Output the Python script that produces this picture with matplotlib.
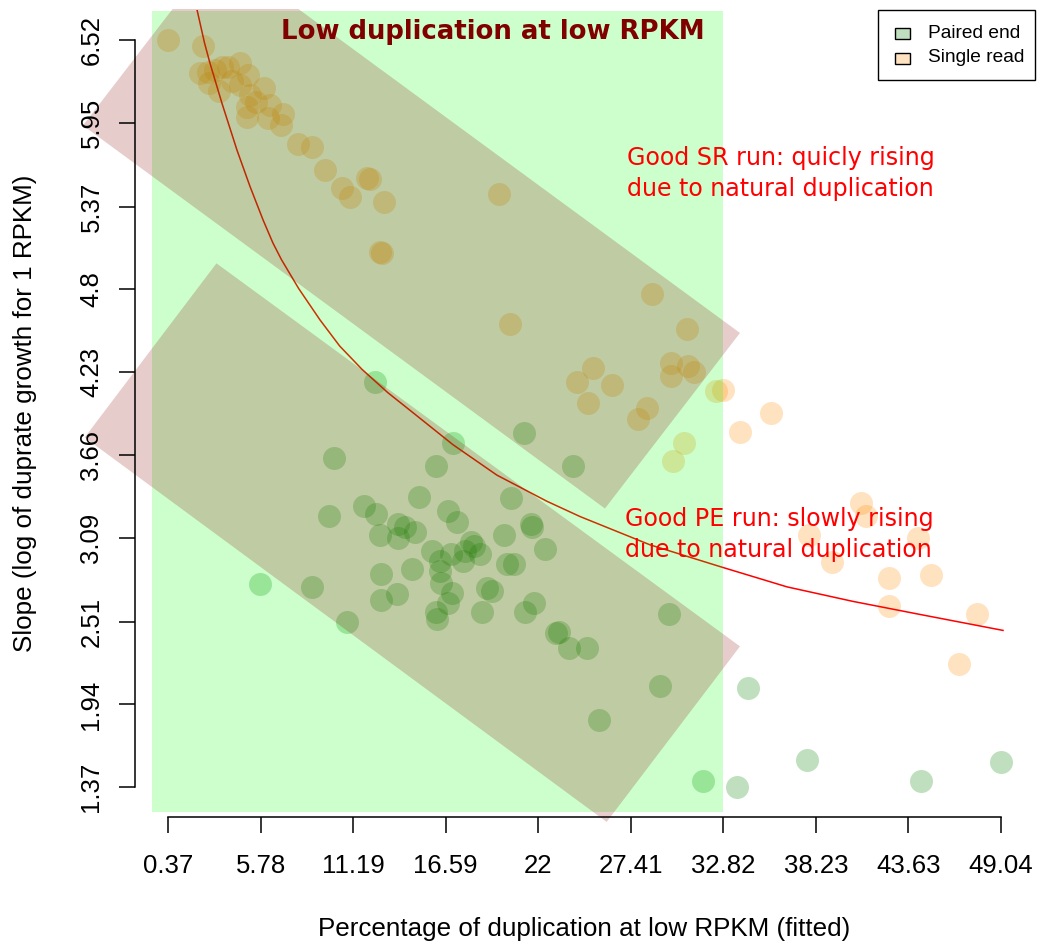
import matplotlib
matplotlib.use('Agg')
import matplotlib.pyplot as plt
from matplotlib.patches import Polygon, Rectangle

plt.rcParams['font.family'] = ['Liberation Sans', 'DejaVu Sans']

# Paired end runs: % duplication at low RPKM vs slope
pe_x = [12.47, 17.02, 21.17, 24.03, 10.07, 16.03, 15.04, 11.82, 9.78, 12.52, 16.73, 17.26,
        20.41, 13.81, 14.22, 14.80, 12.76, 13.81, 20.00, 21.58, 21.64, 22.40, 18.07, 18.25,
        18.60, 17.72, 17.61, 16.91, 15.80, 16.26, 16.26, 16.32, 20.18, 20.59, 14.63, 12.82,
        8.78, 19.01, 19.30, 16.96, 16.73, 13.75, 12.82, 16.03, 16.09, 18.72, 21.76, 21.23,
        10.83, 23.04, 23.22, 23.80, 24.85, 29.64, 29.12, 25.55, 31.63, 34.26, 33.62, 37.71,
        44.37, 49.04, 5.75]
pe_y = [4.16, 3.74, 3.81, 3.58, 3.64, 3.58, 3.37, 3.31, 3.24, 3.25, 3.27, 3.20,
        3.36, 3.18, 3.16, 3.13, 3.11, 3.09, 3.11, 3.18, 3.16, 3.01, 3.06, 3.03,
        2.98, 3.00, 2.93, 2.98, 3.00, 2.93, 2.86, 2.78, 2.91, 2.91, 2.87, 2.84,
        2.75, 2.74, 2.72, 2.71, 2.64, 2.70, 2.66, 2.58, 2.53, 2.58, 2.64, 2.58,
        2.51, 2.43, 2.44, 2.33, 2.33, 2.56, 2.07, 1.83, 1.41, 2.05, 1.37, 1.56,
        1.41, 1.54, 2.77]

# Single read runs
sr_x = [0.37, 2.42, 2.24, 2.71, 3.12, 3.53, 3.88, 4.58, 2.77, 3.35, 4.11, 4.58,
        5.04, 5.98, 5.16, 4.99, 4.99, 5.51, 6.33, 7.09, 6.21, 6.97, 7.97, 8.78,
        9.54, 10.54, 11.00, 12.00, 12.17, 12.99, 12.76, 12.87, 19.71, 20.35, 28.65, 30.69,
        25.20, 24.27, 26.31, 24.91, 29.76, 29.76, 30.75, 31.10, 28.36, 27.83, 32.39, 32.80,
        30.52, 29.88, 33.79, 35.60, 40.86, 41.15, 37.82, 44.19, 39.17, 42.50, 44.95, 42.50,
        47.64, 46.59]
sr_y = [6.52, 6.48, 6.29, 6.30, 6.31, 6.33, 6.33, 6.36, 6.22, 6.17, 6.24, 6.21,
        6.28, 6.19, 6.14, 6.06, 5.99, 6.09, 6.07, 6.01, 5.98, 5.93, 5.80, 5.78,
        5.62, 5.50, 5.44, 5.57, 5.56, 5.40, 5.06, 5.05, 5.46, 4.56, 4.77, 4.53,
        4.26, 4.16, 4.14, 4.02, 4.29, 4.20, 4.27, 4.23, 3.98, 3.91, 4.10, 4.11,
        3.74, 3.62, 3.82, 3.95, 3.33, 3.24, 3.11, 3.09, 2.92, 2.81, 2.83, 2.62,
        2.56, 2.22]

# fitted curve
fit_x = [2.06, 2.50, 2.82, 3.53, 4.40, 5.16, 5.92, 6.50, 7.00, 8.00, 9.25, 10.40, 11.70,
         13.20, 14.69, 17.02, 19.59, 22.51, 24.44, 28.53, 32.62, 36.54, 40.39, 44.31, 49.16]
fit_y = [6.73, 6.50, 6.36, 6.08, 5.76, 5.51, 5.28, 5.12, 5.005, 4.807, 4.59, 4.41, 4.25,
         4.09, 3.95, 3.73, 3.52, 3.34, 3.235, 3.04, 2.89, 2.75, 2.65, 2.56, 2.45]

# highlighted zones
low_dup_x = (-0.57, 32.82)
low_dup_y = (1.20, 6.72)
sr_zone = [(-4.60, 5.93), (3.29, 7.14), (33.79, 4.50), (25.90, 3.29)]
pe_zone = [(-4.50, 3.78), (3.20, 4.98), (33.79, 2.34), (26.00, 1.13)]

xticks = [0.37, 5.78, 11.19, 16.59, 22, 27.41, 32.82, 38.23, 43.63, 49.04]
xtick_labels = ['0.37', '5.78', '11.19', '16.59', '22', '27.41', '32.82', '38.23', '43.63', '49.04']
yticks = [1.37, 1.94, 2.51, 3.09, 3.66, 4.23, 4.8, 5.37, 5.95, 6.52]
ytick_labels = ['1.37', '1.94', '2.51', '3.09', '3.66', '4.23', '4.8', '5.37', '5.95', '6.52']

legend_labels = ['Paired end', 'Single read']

pe_col = (0.0, 0.5, 0.0)
sr_col = (1.0, 0.55, 0.0)

W, H = 1044, 942
fig = plt.figure(figsize=(W / 100, H / 100), dpi=100)
ax = fig.add_axes([0.12902, 0.13270, 0.86169, 0.85669])
ax.set_xlim(-1.577, 50.987)
ax.set_ylim(1.164, 6.726)

# points
ax.scatter(pe_x, pe_y, s=274, color=pe_col, alpha=0.25, linewidths=0, zorder=1)
ax.scatter(sr_x, sr_y, s=274, color=sr_col, alpha=0.25, linewidths=0, zorder=1)

# fitted curve
ax.plot(fit_x, fit_y, color='red', lw=1.1, zorder=1.5)

# zones
ax.add_patch(Rectangle((low_dup_x[0], low_dup_y[0]), low_dup_x[1] - low_dup_x[0],
                       low_dup_y[1] - low_dup_y[0], facecolor=(0, 1, 0), alpha=0.2,
                       lw=0, zorder=2.1))
fig_clip = Rectangle((0, 0), 1, 1 - 9 / H, transform=fig.transFigure)
for zone in [sr_zone, pe_zone]:
    poly = Polygon(zone, closed=True, facecolor=(0.545, 0, 0), alpha=0.2, lw=0, zorder=2.2)
    ax.add_patch(poly)
    poly.set_clip_path(fig_clip)

# texts
ax.text(19.36, 6.575, 'Low duplication at low RPKM', color='#800000', fontsize=18.7,
        weight='bold', family='DejaVu Sans', ha='center', va='center', zorder=5)
ax.text(27.19, 5.60, 'Good SR run: quicly rising\ndue to natural duplication', color='red',
        fontsize=17.1, family='DejaVu Sans', ha='left', va='center', linespacing=1.38, zorder=5)
ax.text(27.07, 3.11, 'Good PE run: slowly rising\ndue to natural duplication', color='red',
        fontsize=17.1, family='DejaVu Sans', ha='left', va='center', linespacing=1.38, zorder=5)

# axes
ax.set_axisbelow(False)
for s in ['top', 'right']:
    ax.spines[s].set_visible(False)
ax.spines['left'].set_bounds(1.37, 6.52)
ax.spines['bottom'].set_bounds(0.37, 49.04)
ax.spines['left'].set_linewidth(1.1)
ax.spines['bottom'].set_linewidth(1.1)
ax.set_xticks(xticks, labels=xtick_labels)
ax.set_yticks(yticks, labels=ytick_labels, rotation=90, va='center')
ax.tick_params(axis='both', length=11.5, width=1.1, labelsize=18.5)
ax.tick_params(axis='x', pad=15.5)
ax.tick_params(axis='y', pad=11)

fig.text(584.5 / W, 1 - 929 / H, 'Percentage of duplication at low RPKM (fitted)',
         ha='center', va='center', fontsize=18.7)
fig.text(25 / W, 1 - 413 / H, 'Slope (log of duprate growth for 1 RPKM)',
         ha='center', va='center', rotation=90, fontsize=18.7)

# legend box, drawn R style
def px(x, y):
    return x / W, 1 - y / H

fig.patches.append(Rectangle(px(878, 80), 157 / W, 70 / H, transform=fig.transFigure,
                             facecolor='white', edgecolor='black', lw=1.0, zorder=6))
for i, (lab, col) in enumerate(zip(legend_labels, [pe_col, sr_col])):
    yc = 33 + 25 * i
    fig.patches.append(Rectangle(px(895, yc + 5.5), 15 / W, 11 / H, transform=fig.transFigure,
                                 facecolor=col + (0.25,), edgecolor='black', lw=1.0, zorder=7))
    fig.text(928 / W, 1 - yc / H, lab, ha='left', va='center', fontsize=13.8, zorder=7)

fig.savefig('out.png', dpi=100)
